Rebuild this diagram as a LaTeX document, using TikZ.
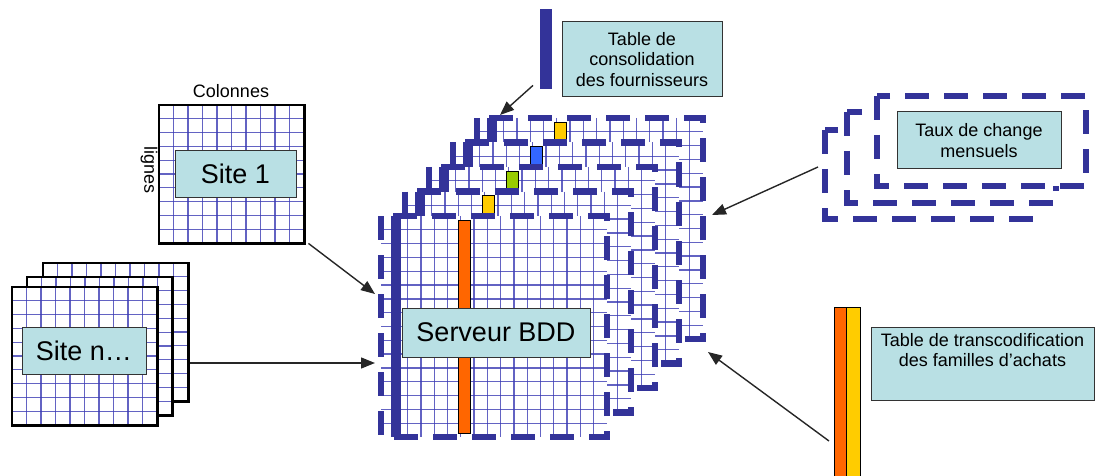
\documentclass[tikz,border=0pt]{standalone}
\usepackage{fontspec}
\setmainfont{Liberation Sans}
\usetikzlibrary{arrows.meta}
\definecolor{dkblue}{RGB}{51,51,153}
\definecolor{gridblue}{RGB}{60,60,180}
\definecolor{labelfill}{RGB}{185,224,228}
\definecolor{orangebar}{RGB}{255,102,0}
\definecolor{yellowbar}{RGB}{255,204,0}
\definecolor{greenbar}{RGB}{153,204,0}
\definecolor{bluebar}{RGB}{51,102,255}
\newcommand\drawgrid[6]{% x0 y0 w h nx ny
  \pgfmathtruncatemacro\gnx{#5-1}%
  \pgfmathtruncatemacro\gny{#6-1}%
  \foreach \gi in {1,...,\gnx}{\draw[gridline] ({#1+\gi*(#3)/(#5)},#2) -- ++(0,#4);}%
  \foreach \gj in {1,...,\gny}{\draw[gridline] (#1,{#2+\gj*(#4)/(#6)}) -- ++(#3,0);}%
}
\newcommand\sitepage[3]{% name x0 y0
  \node[fill=white, minimum width=145pt, minimum height=138pt, inner sep=0pt, anchor=north west] (#1) at (#2,#3) {};
  \drawgrid{#2}{#3}{145}{138}{10}{10}
  \draw[pageborder] (#1.north west) rectangle (#1.south east);
}
\newcommand\cubelayer[3]{% left top barcolour
  \fill[white] (#1,#2) rectangle ++(226,221);
  \drawgrid{#1}{#2}{226}{221}{17}{16}
  \fill[dkblue] ({#1+10},#2) rectangle ++(10,221);
  \draw[colbar, fill=#3] ({#1+77},{#2+4}) rectangle ++(12,213);
  \draw[dborder] (#1,#2) rectangle ++(226,221);
}
\begin{document}
\begin{tikzpicture}[x=1pt,y=-1pt,
  gridline/.style={draw=gridblue, line width=1.3pt, opacity=0.8},
  dborder/.style={draw=dkblue, line width=6.5pt, dash pattern=on 24pt off 15pt},
  colbar/.style={draw=black, line width=0.8pt},
  pageborder/.style={draw=black, line width=2.5pt},
  lbl/.style={draw=black!80, line width=1pt, fill=labelfill, inner sep=0pt, align=center},
  big/.style={font=\fontsize{27}{32}\selectfont},
  small/.style={font=\fontsize{18}{20.5}\selectfont},
  conn/.style={draw=black!85, line width=1.4pt, -{Triangle[length=14pt,width=11pt]}}]
\useasboundingbox (0,0) rectangle (1098,476);

% ---- Site 1
\sitepage{site1pg}{159}{105}
\node[lbl, big, minimum width=121pt, minimum height=46pt] (site1) at (235.5,174) {Site 1};
\node[small, inner sep=0pt] (colonnes) at (231,91) {Colonnes};
\node[small, inner sep=0pt, rotate=-90] (lignes) at (149,170) {lignes};

% ---- Site n
\sitepage{sitenC}{43}{263}
\sitepage{sitenB}{27}{277}
\sitepage{sitenA}{12}{287}
\node[lbl, big, minimum width=124pt, minimum height=47pt] (siten) at (84,350.5) {Site n…};

% ---- Central stack
\foreach \k/\c in {4/yellowbar,3/bluebar,2/greenbar,1/yellowbar,0/orangebar}{
  \pgfmathsetmacro\lx{381+24*\k}
  \pgfmathsetmacro\ty{216-24.5*\k}
  \cubelayer{\lx}{\ty}{\c}
}
\node[lbl, big, minimum width=188pt, minimum height=49pt] (serveur) at (496,332.5) {Serveur BDD};

% ---- Table de consolidation
\node[fill=dkblue, minimum width=12pt, minimum height=80pt, inner sep=0pt, anchor=north west] (conbar) at (540,9) {};
\node[lbl, small, minimum width=160pt, minimum height=75pt] (consol) at (642,59.5) {Table de\\consolidation\\des fournisseurs};

% ---- Taux de change
\draw[dborder, fill=white] (825,130) rectangle (1035,219);
\draw[dborder, fill=white] (847,112) rectangle (1056,203);
\draw[dborder, fill=white] (877,96) rectangle (1086,186);
\node[lbl, small, minimum width=164pt, minimum height=57pt] (taux) at (979,140.5) {Taux de change\\mensuels};

% ---- Table de transcodification
\draw[colbar, fill=orangebar] (834,307) rectangle (846,482);
\draw[colbar, fill=yellowbar] (846,307) rectangle (860,482);
\node[lbl, small, minimum width=223pt, minimum height=73pt] (transco) at (982.5,363.5) {Table de transcodification\\des familles d’achats\\\strut};

% ---- connectors
\coordinate (cubeA) at (375,294);
\coordinate (cubeB) at (375,363);
\coordinate (cubeC) at (500,115);
\coordinate (cubeD) at (712,215);
\coordinate (cubeE) at (708,352);
\coordinate (snout) at (190,363);
\coordinate (tauxout) at (818,167);
\coordinate (trout) at (829,441);
\draw[conn] ([xshift=4pt]site1pg.south east) -- (cubeA);
\draw[conn] (snout) -- (cubeB);
\draw[conn] ([shift={(-7pt,4pt)}]conbar.south west) -- (cubeC);
\draw[conn] (tauxout) -- (cubeD);
\draw[conn] (trout) -- (cubeE);
\end{tikzpicture}
\end{document}
